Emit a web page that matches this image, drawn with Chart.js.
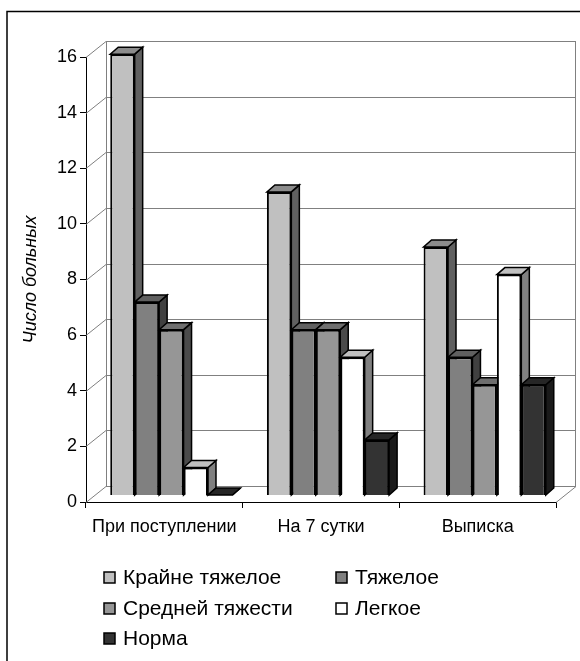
<!DOCTYPE html>
<html>
<head>
<meta charset="utf-8">
<script src="https://cdn.jsdelivr.net/npm/chart.js@4/dist/chart.umd.min.js"></script>
<style>
  body { margin: 0; background: #fff; }
  #chart { display: block; }
</style>
</head>
<body>
<canvas id="chart" width="580" height="661"></canvas>
<script>
const categories = ["При поступлении", "На 7 сутки", "Выписка"];
const seriesNames = ["Крайне тяжелое", "Тяжелое", "Средней тяжести", "Легкое", "Норма"];
const krayneTyazheloe = [16, 11, 9];
const tyazheloe = [7, 6, 5];
const sredneyTyazhesti = [6, 6, 4];
const legkoe = [1, 5, 8];
const norma = [0, 2, 4];
const yTicks = [0, 2, 4, 6, 8, 10, 12, 14, 16];

// front / top / side shades for the fake 3d bars
const frontColors = ["#C0C0C0", "#808080", "#969696", "#FFFFFF", "#333333"];
const topColors = ["#8C8C8C", "#606060", "#6E6E6E", "#C0C0C0", "#262626"];
const sideColors = ["#606060", "#404040", "#4B4B4B", "#808080", "#1A1A1A"];

const FONT = "'Liberation Sans', Arial, sans-serif";
const WALL_DX = 20, WALL_DY = -16;   // back wall offset
const BAR_DX = 7, BAR_DY = -7;       // bars sit halfway in depth
const DEPTH_X = 8, DEPTH_Y = -7;     // bar thickness

const allSeries = [krayneTyazheloe, tyazheloe, sredneyTyazhesti, legkoe, norma];

const threeD = {
    id: "threeD",
    beforeDraw(chart) {
        const ctx = chart.ctx;
        ctx.save();
        ctx.fillStyle = "#fff";
        ctx.fillRect(0, 0, chart.width, chart.height);
        ctx.strokeStyle = "#000";
        ctx.lineWidth = 1.5;
        ctx.strokeRect(7, 11.5, 700, 800);
        ctx.restore();
    },
    beforeDatasetsDraw(chart) {
        const ctx = chart.ctx;
        const y = chart.scales.y;
        const a = chart.chartArea;
        const y0 = y.getPixelForValue(0);
        const yTop = y.getPixelForValue(16);

        ctx.save();
        ctx.strokeStyle = "#808080";
        ctx.lineWidth = 1;
        ctx.beginPath();
        yTicks.forEach(v => {
            const py = Math.round(y.getPixelForValue(v)) + 0.5;
            ctx.moveTo(a.left, py);
            ctx.lineTo(a.left + WALL_DX, py + WALL_DY);
            ctx.lineTo(a.right + WALL_DX, py + WALL_DY);
        });
        const lx = a.left + WALL_DX + 0.5, rx = a.right + WALL_DX - 0.5;
        ctx.moveTo(lx, Math.round(yTop) + WALL_DY);
        ctx.lineTo(lx, Math.round(y0) + WALL_DY);
        ctx.moveTo(rx, Math.round(yTop) + WALL_DY);
        ctx.lineTo(rx, Math.round(y0) + WALL_DY);
        ctx.moveTo(a.right, Math.round(y0) + 0.5);
        ctx.lineTo(a.right + WALL_DX, Math.round(y0) + 0.5 + WALL_DY);
        ctx.stroke();
        ctx.restore();

        // bar sides and tops, left to right so each bar covers the one before
        ctx.save();
        ctx.translate(BAR_DX, BAR_DY);
        ctx.strokeStyle = "#000";
        ctx.lineWidth = 1.5;
        ctx.lineJoin = "miter";
        categories.forEach((c, j) => {
            chart.data.datasets.forEach((ds, i) => {
                const bar = chart.getDatasetMeta(i).data[j];
                const p = bar.getProps(["x", "y", "base", "width"], true);
                const l = p.x - p.width / 2, r = p.x + p.width / 2;
                ctx.fillStyle = sideColors[i];
                ctx.beginPath();
                ctx.moveTo(r, p.y);
                ctx.lineTo(r + DEPTH_X, p.y + DEPTH_Y);
                ctx.lineTo(r + DEPTH_X, p.base + DEPTH_Y);
                ctx.lineTo(r, p.base);
                ctx.closePath();
                ctx.fill();
                ctx.stroke();
                ctx.fillStyle = topColors[i];
                ctx.beginPath();
                ctx.moveTo(l, p.y);
                ctx.lineTo(r, p.y);
                ctx.lineTo(r + DEPTH_X, p.y + DEPTH_Y);
                ctx.lineTo(l + DEPTH_X, p.y + DEPTH_Y);
                ctx.closePath();
                ctx.fill();
                ctx.stroke();
            });
        });
        // keep the shift on for the front faces drawn by Chart.js
    },
    afterDatasetsDraw(chart) {
        chart.ctx.restore();
    },
    afterDraw(chart) {
        const ctx = chart.ctx;
        const colX = [104, 336];
        const rowY = [577, 608, 638];
        ctx.save();
        ctx.font = "21px " + FONT;
        ctx.textBaseline = "middle";
        ctx.lineWidth = 1.5;
        chart.data.datasets.forEach((ds, i) => {
            const x = colX[i % 2], yy = rowY[Math.floor(i / 2)];
            ctx.fillStyle = ds.backgroundColor;
            ctx.fillRect(x, yy - 5, 11, 11);
            ctx.strokeStyle = "#000";
            ctx.strokeRect(x, yy - 5, 11, 11);
            ctx.fillStyle = "#000";
            ctx.fillText(ds.label, x + 19, yy + 1);
        });
        ctx.restore();
    }
};

new Chart(document.getElementById("chart"), {
    type: "bar",
    data: {
        labels: categories,
        datasets: seriesNames.map((name, i) => ({
            label: name,
            data: allSeries[i],
            backgroundColor: frontColors[i],
            borderColor: "#000",
            borderWidth: 2,
            yAxisID: "yb",
            categoryPercentage: 0.78,
            barPercentage: 1,
            clip: false
        }))
    },
    options: {
        responsive: false,
        animation: false,
        layout: { padding: { top: 57, right: 24, bottom: 119, left: 0 } },
        plugins: { legend: { display: false }, tooltip: { enabled: false } },
        scales: {
            x: {
                grid: { drawOnChartArea: false, color: "#000", tickLength: 6 },
                border: { color: "#000" },
                ticks: { color: "#000", padding: 8, font: { family: FONT, size: 18 } },
                afterFit: s => { s.height = 40; }
            },
            y: {
                min: 0,
                max: 16,
                grid: { drawOnChartArea: false, color: "#000", tickLength: 6 },
                border: { color: "#000" },
                ticks: { stepSize: 2, color: "#000", padding: 3, font: { family: FONT, size: 18 } },
                title: {
                    display: true,
                    text: "Число больных",
                    color: "#000",
                    padding: { top: 20, bottom: 0 },
                    font: { family: FONT, size: 18, style: "italic" }
                },
                afterFit: s => { s.width = 86; }
            },
            yb: { display: false, min: 0, max: 16.15 }
        }
    },
    plugins: [threeD]
});
</script>
</body>
</html>
